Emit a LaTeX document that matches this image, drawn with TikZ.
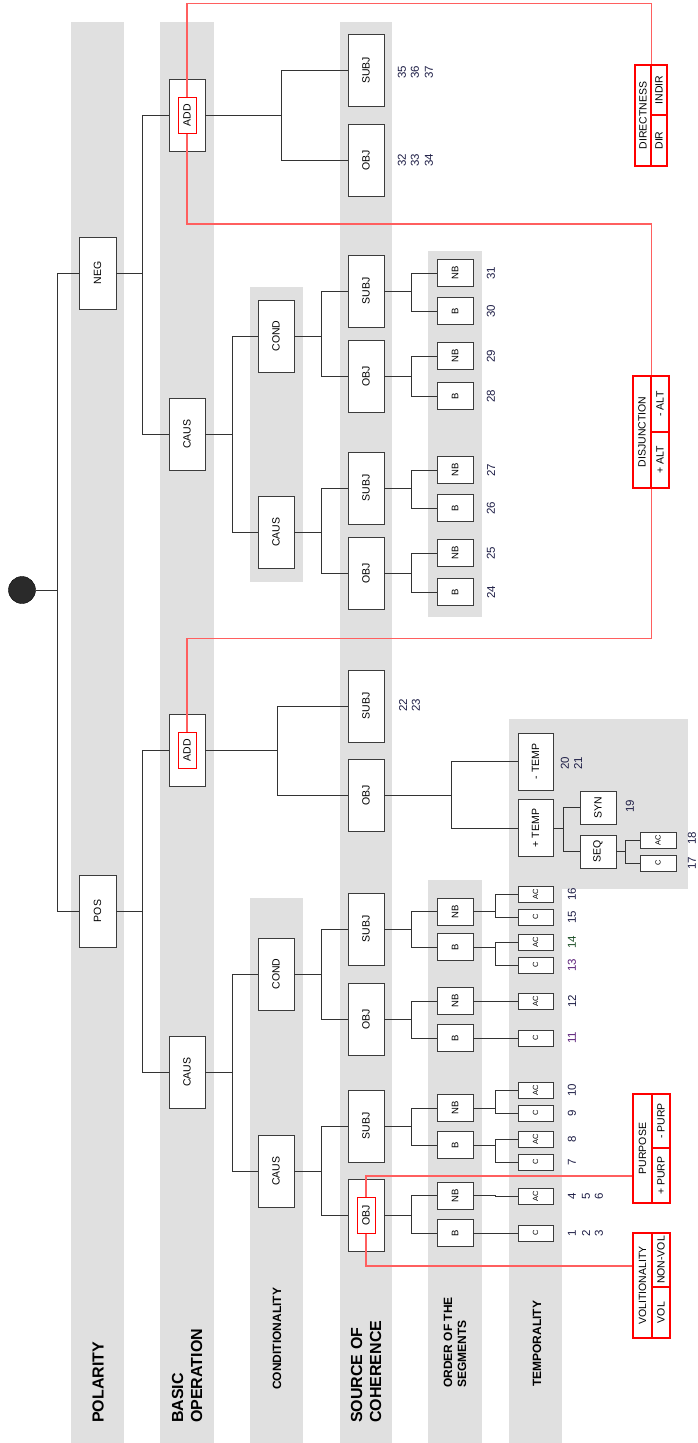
\documentclass[tikz,border=0pt]{standalone}
\usepackage{fontspec}
\setmainfont{Liberation Sans}
\usepackage{graphicx}
\pgfdeclarelayer{bg}\pgfdeclarelayer{redl}\pgfdeclarelayer{top}
\pgfsetlayers{bg,main,redl,top}
\definecolor{bandgray}{HTML}{E0E0E0}
\definecolor{boxcol}{HTML}{3C3C3C}
\definecolor{linecol}{HTML}{333333}
\definecolor{redline}{RGB}{255,95,95}
\definecolor{redbox}{RGB}{255,0,0}
\definecolor{numcol}{RGB}{30,30,70}
\definecolor{numpur}{RGB}{90,30,120}
\definecolor{numgrn}{RGB}{30,80,40}
\definecolor{rootcol}{HTML}{2A2A2A}
\newcommand\rt[1]{\rotatebox{90}{#1}}
\newcommand\fsz[1]{\fontsize{#1}{#1}\selectfont}
\newcommand\fork[3]{\draw[conn] (#1.east) -- ++(#2,0) |- (#3.west);}
\begin{document}
\begin{tikzpicture}[x=1pt,y=-1pt,
  band/.style={fill=bandgray,draw=none},
  lv/.style={draw=boxcol,fill=white,line width=0.9pt,inner sep=0pt,minimum width=36pt,minimum height=72pt,font=\fsz{10.5}},
  sm/.style={lv,minimum height=27pt,font=\fsz{9.5}},
  tn/.style={lv,minimum width=35pt,minimum height=16pt,font=\fsz{7.5}},
  tp/.style={lv,minimum width=35pt,minimum height=57pt},
  sq/.style={lv,minimum height=33pt},
  conn/.style={draw=linecol,line width=0.9pt},
  num/.style={inner sep=0pt,text=numcol,font=\fsz{11.5}},
  rline/.style={draw=redline,line width=1.2pt},
  rin/.style={draw=redbox,line width=1pt,fill=white,inner sep=0pt,minimum width=18pt,minimum height=36pt,font=\fsz{10.5}},
  rc/.style={draw=redbox,line width=1.4pt,fill=white,inner sep=0pt,font=\fsz{10.5}},
  blab/.style={rotate=90,anchor=west,inner sep=0pt,align=left,font=\bfseries\fontsize{16}{19}\selectfont},
  slab/.style={rotate=90,anchor=west,inner sep=0pt,align=left,font=\bfseries\fontsize{12}{14}\selectfont}
]
\useasboundingbox (0,0) rectangle (697,1443);
\begin{pgfonlayer}{bg}
\fill[white] (0,0) rectangle (697,1443);
\fill[band] (71,22) rectangle (124,1443);
\fill[band] (160,22) rectangle (214,1443);
\fill[band] (250,287) rectangle (303,582);
\fill[band] (250,898) rectangle (303,1443);
\fill[band] (340,22) rectangle (392,1443);
\fill[band] (428,251) rectangle (482,617);
\fill[band] (428,880) rectangle (482,1443);
\fill[band] (509,719) rectangle (688,889);
\fill[band] (509,719) rectangle (562,1443);
\end{pgfonlayer}

% band labels
\node[blab] (lpol) at (98,1423) {POLARITY};
\node[blab] (lbas) at (187,1423) {BASIC\\OPERATION};
\node[slab] (lcond) at (277,1390) {CONDITIONALITY};
\node[blab] (lsrc) at (366,1423) {SOURCE OF\\COHERENCE};
\node[slab] (lord) at (455,1388) {ORDER OF THE\\SEGMENTS};
\node[slab] (ltmp) at (537,1387) {TEMPORALITY};

% root
\node[circle,fill=rootcol,draw=black,minimum size=27pt,inner sep=0pt] (root) at (22,590) {};

% level 1
\node[lv,minimum width=37pt] (neg) at (97.5,273) {\rt{NEG}};
\node[lv,minimum width=37pt] (pos) at (97.5,911) {\rt{POS}};
% level 2
\node[lv] (addn) at (187,115) {};
\node[lv] (causn) at (187,434) {\rt{CAUS}};
\node[lv] (addp) at (187,750) {};
\node[lv] (causp) at (187,1072) {\rt{CAUS}};
% level 3
\node[lv] (condn) at (276,336) {\rt{COND}};
\node[lv] (caustn) at (276,532) {\rt{CAUS}};
\node[lv] (condp) at (276,974) {\rt{COND}};
\node[lv] (caustp) at (276,1171) {\rt{CAUS}};
% level 4
\node[lv] (subjna) at (366,70.5) {\rt{SUBJ}};
\node[lv] (objna) at (366,160) {\rt{OBJ}};
\node[lv] (subjnc) at (366,291) {\rt{SUBJ}};
\node[lv] (objnc) at (366,376) {\rt{OBJ}};
\node[lv] (subjnk) at (366,488) {\rt{SUBJ}};
\node[lv] (objnk) at (366,573) {\rt{OBJ}};
\node[lv] (subjpa) at (366,706) {\rt{SUBJ}};
\node[lv] (objpa) at (366,795) {\rt{OBJ}};
\node[lv] (subjpc) at (366,929) {\rt{SUBJ}};
\node[lv] (objpc) at (366,1019) {\rt{OBJ}};
\node[lv] (subjpk) at (366,1126) {\rt{SUBJ}};
\node[lv] (objpk) at (366,1215) {};
% level 5
\node[sm] (nb1) at (455,273) {\rt{NB}};
\node[sm] (b1) at (455,311) {\rt{B}};
\node[sm] (nb2) at (455,356) {\rt{NB}};
\node[sm] (b2) at (455,396) {\rt{B}};
\node[sm] (nb3) at (455,470) {\rt{NB}};
\node[sm] (b3) at (455,508) {\rt{B}};
\node[sm] (nb4) at (455,553) {\rt{NB}};
\node[sm] (b4) at (455,592) {\rt{B}};
\node[sm] (nb5) at (455,911.5) {\rt{NB}};
\node[sm] (b5) at (455,947) {\rt{B}};
\node[sm] (nb6) at (455,1001) {\rt{NB}};
\node[sm] (b6) at (455,1038) {\rt{B}};
\node[sm] (nb7) at (455,1108) {\rt{NB}};
\node[sm] (b7) at (455,1145) {\rt{B}};
\node[sm] (nb8) at (455,1195.5) {\rt{NB}};
\node[sm] (b8) at (455,1233) {\rt{B}};
% level 6
\node[tn] (t16) at (535.5,894) {\rt{AC}};
\node[tn] (t15) at (535.5,917) {\rt{C}};
\node[tn] (t14) at (535.5,942) {\rt{AC}};
\node[tn] (t13) at (535.5,965) {\rt{C}};
\node[tn] (t12) at (535.5,1001) {\rt{AC}};
\node[tn] (t11) at (535.5,1038) {\rt{C}};
\node[tn] (t10) at (535.5,1090) {\rt{AC}};
\node[tn] (t9) at (535.5,1113) {\rt{C}};
\node[tn] (t8) at (535.5,1139) {\rt{AC}};
\node[tn] (t7) at (535.5,1162) {\rt{C}};
\node[tn] (t4) at (535.5,1196) {\rt{AC}};
\node[tn] (t1) at (535.5,1233) {\rt{C}};
% temporal branch of pos add obj
\node[tp] (mtemp) at (535.5,761.5) {\rt{- TEMP}};
\node[tp] (ptemp) at (535.5,828) {\rt{+ TEMP}};
\node[sq] (syn) at (598,807.5) {\rt{SYN}};
\node[sq] (seq) at (598,851.5) {\rt{SEQ}};
\node[tn,minimum width=36pt] (sac) at (658,840) {\rt{AC}};
\node[tn,minimum width=36pt] (sc) at (658,863) {\rt{C}};

% connectors
\fork{root}{21.5}{neg} \fork{root}{21.5}{pos}
\fork{neg}{26}{addn} \fork{neg}{26}{causn}
\fork{pos}{26}{addp} \fork{pos}{26}{causp}
\fork{addn}{76}{subjna} \fork{addn}{76}{objna}
\fork{causn}{27}{condn} \fork{causn}{27}{caustn}
\fork{condn}{27}{subjnc} \fork{condn}{27}{objnc}
\fork{caustn}{27}{subjnk} \fork{caustn}{27}{objnk}
\fork{subjnc}{27}{nb1} \fork{subjnc}{27}{b1}
\fork{objnc}{27}{nb2} \fork{objnc}{27}{b2}
\fork{subjnk}{27}{nb3} \fork{subjnk}{27}{b3}
\fork{objnk}{27}{nb4} \fork{objnk}{27}{b4}
\fork{addp}{72}{subjpa} \fork{addp}{72}{objpa}
\fork{objpa}{67}{mtemp} \fork{objpa}{67}{ptemp}
\fork{ptemp}{10}{syn} \fork{ptemp}{10}{seq}
\fork{seq}{9}{sac} \fork{seq}{9}{sc}
\fork{causp}{27}{condp} \fork{causp}{27}{caustp}
\fork{condp}{27}{subjpc} \fork{condp}{27}{objpc}
\fork{caustp}{27}{subjpk} \fork{caustp}{27}{objpk}
\fork{subjpc}{27}{nb5} \fork{subjpc}{27}{b5}
\fork{objpc}{27}{nb6} \fork{objpc}{27}{b6}
\fork{subjpk}{27}{nb7} \fork{subjpk}{27}{b7}
\fork{objpk}{27}{nb8} \fork{objpk}{27}{b8}
\fork{nb5}{22}{t16} \fork{nb5}{22}{t15}
\fork{b5}{22}{t14} \fork{b5}{22}{t13}
\fork{nb6}{22}{t12} \fork{b6}{22}{t11}
\fork{nb7}{22}{t10} \fork{nb7}{22}{t9}
\fork{b7}{22}{t8} \fork{b7}{22}{t7}
\fork{nb8}{22}{t4} \fork{b8}{22}{t1}

% numbers
\node[num] (n35) at (402,72) {\rt{35}};
\node[num] (n36) at (415,72) {\rt{36}};
\node[num] (n37) at (429,72) {\rt{37}};
\node[num] (n32) at (402,160) {\rt{32}};
\node[num] (n33) at (415,160) {\rt{33}};
\node[num] (n34) at (429,160) {\rt{34}};
\node[num] (n31) at (491,273) {\rt{31}};
\node[num] (n30) at (491,311) {\rt{30}};
\node[num] (n29) at (491,356) {\rt{29}};
\node[num] (n28) at (491,396) {\rt{28}};
\node[num] (n27) at (491,470) {\rt{27}};
\node[num] (n26) at (491,508) {\rt{26}};
\node[num] (n25) at (491,553) {\rt{25}};
\node[num] (n24) at (491,592) {\rt{24}};
\node[num] (n22) at (403,705) {\rt{22}};
\node[num] (n23) at (416,705) {\rt{23}};
\node[num] (n20) at (565,763) {\rt{20}};
\node[num] (n21) at (578,763) {\rt{21}};
\node[num] (n19) at (630,806) {\rt{19}};
\node[num] (n18) at (692,838) {\rt{18}};
\node[num] (n17) at (692,863) {\rt{17}};
\node[num] (n16) at (572,894) {\rt{16}};
\node[num] (n15) at (572,917) {\rt{15}};
\node[num,text=numgrn] (n14) at (572,942) {\rt{14}};
\node[num,text=numpur] (n13) at (572,965) {\rt{13}};
\node[num] (n12) at (572,1001) {\rt{12}};
\node[num,text=numpur] (n11) at (572,1038) {\rt{11}};
\node[num] (n10) at (572,1090) {\rt{10}};
\node[num] (n9) at (572,1113) {\rt{9}};
\node[num] (n8) at (572,1139) {\rt{8}};
\node[num] (n7) at (572,1162) {\rt{7}};
\node[num] (n4) at (572,1196) {\rt{4}};
\node[num] (n5) at (586,1196) {\rt{5}};
\node[num] (n6) at (599,1196) {\rt{6}};
\node[num] (n1) at (572,1233) {\rt{1}};
\node[num] (n2) at (586,1233) {\rt{2}};
\node[num] (n3) at (599,1233) {\rt{3}};

% red boxes (top layer)
\begin{pgfonlayer}{top}
\node[rin] (addnr) at (187,115) {\rt{ADD}};
\node[rin] (addpr) at (187,750) {\rt{ADD}};
\node[rin] (objr) at (366,1215) {\rt{OBJ}};
% directness
\node[rc,minimum width=16pt,minimum height=101pt] (dirc) at (643,115.5) {\rt{DIRECTNESS}};
\node[rc,minimum width=16pt,minimum height=50pt] (indir) at (659,90) {\rt{INDIR}};
\node[rc,minimum width=16pt,minimum height=51pt] (dir) at (659,140.5) {\rt{DIR}};
% disjunction
\node[rc,minimum width=18pt,minimum height=112pt] (disj) at (642,432) {\rt{DISJUNCTION}};
\node[rc,minimum width=18pt,minimum height=56pt] (malt) at (660,404) {\rt{- ALT}};
\node[rc,minimum width=18pt,minimum height=56pt] (palt) at (660,460) {\rt{+ ALT}};
% purpose
\node[rc,minimum width=19pt,minimum height=109pt] (purp) at (642.5,1148.5) {\rt{PURPOSE}};
\node[rc,minimum width=18pt,minimum height=54pt] (mpurp) at (661,1121) {\rt{- PURP}};
\node[rc,minimum width=18pt,minimum height=55pt] (ppurp) at (661,1175.5) {\rt{+ PURP}};
% volitionality
\node[rc,minimum width=19pt,minimum height=105pt] (volit) at (642.5,1285.5) {\rt{VOLITIONALITY}};
\node[rc,minimum width=18pt,minimum height=54pt] (nvol) at (661,1260) {\rt{NON-VOL}};
\node[rc,minimum width=18pt,minimum height=51pt] (vol) at (661,1312.5) {\rt{VOL}};
\end{pgfonlayer}

% red lines
\begin{pgfonlayer}{redl}
\draw[rline] (dirc.north east) -- ++(0,-61) -| (addnr.center) -- ++(0,109) -| (disj.north east);
\draw[rline] (disj.south east) -- ++(0,150) -| (addpr.north);
\draw[rline] ([yshift=-27.5pt]purp.west) -| (objr.center) |- ([yshift=19.5pt]volit.west);
\end{pgfonlayer}
\end{tikzpicture}
\end{document}
